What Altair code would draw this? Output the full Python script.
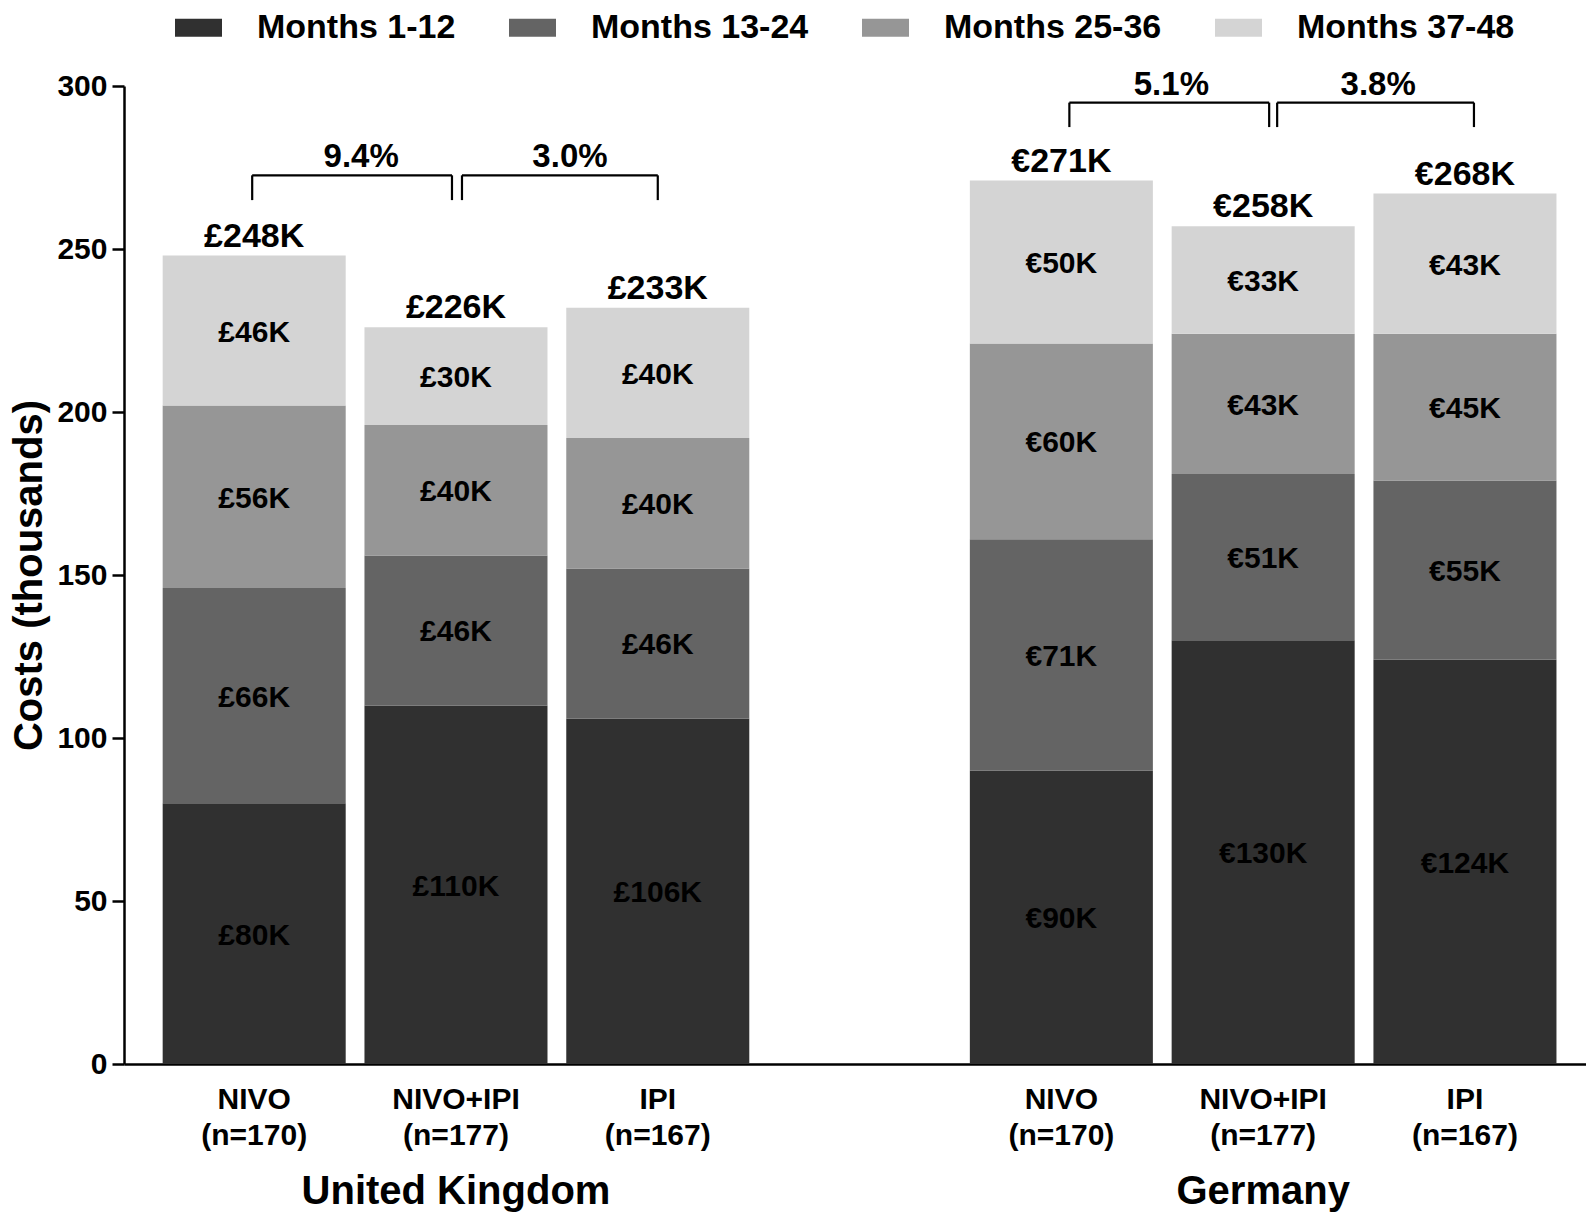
import altair as alt
import pandas as pd

# ---------------- data ----------------
keys = ["UK NIVO", "UK NIVO+IPI", "UK IPI", "DE NIVO", "DE NIVO+IPI", "DE IPI"]
x_domain = ["UK NIVO", "UK NIVO+IPI", "UK IPI", "gap", "DE NIVO", "DE NIVO+IPI", "DE IPI"]
arm_names = ["NIVO", "NIVO+IPI", "IPI", "NIVO", "NIVO+IPI", "IPI"]
n_labels = ["(n=170)", "(n=177)", "(n=167)", "(n=170)", "(n=177)", "(n=167)"]
currencies = ["£", "£", "£", "€", "€", "€"]
periods = ["Months 1-12", "Months 13-24", "Months 25-36", "Months 37-48"]
months_1_12 = [80, 110, 106, 90, 130, 124]
months_13_24 = [66, 46, 46, 71, 51, 55]
months_25_36 = [56, 40, 40, 60, 43, 45]
months_37_48 = [46, 30, 40, 50, 33, 43]
total_labels = ["£248K", "£226K", "£233K", "€271K", "€258K", "€268K"]
countries = ["United Kingdom", "Germany"]
country_centre = ["UK NIVO+IPI", "DE NIVO+IPI"]
pct_from = ["UK NIVO", "UK NIVO+IPI", "DE NIVO", "DE NIVO+IPI"]
pct_to = ["UK NIVO+IPI", "UK IPI", "DE NIVO+IPI", "DE IPI"]
pct_labels = ["9.4%", "3.0%", "5.1%", "3.8%"]
colors = ["#303030", "#646464", "#969696", "#d4d4d4"]

series = [months_1_12, months_13_24, months_25_36, months_37_48]
rows = []
for i, k in enumerate(keys):
    for j, p in enumerate(periods):
        v = series[j][i]
        rows.append({"key": k, "period": p, "order": j, "value": v,
                     "seg_label": f"{currencies[i]}{v}K",
                     "total_label": total_labels[i]})
df = pd.DataFrame(rows)
lab_df = pd.DataFrame({"key": keys, "arm": arm_names, "n": n_labels})
cty_df = pd.DataFrame({"key": country_centre, "country": countries})

# ---------------- layout ----------------
W, H = 1462, 978
FONT = "Liberation Sans"

xscale = alt.Scale(domain=x_domain, paddingInner=0.093, paddingOuter=0.169, align=0.567)
xaxis = alt.Axis(labels=False, ticks=False, title=None, grid=False,
                 domainColor="black", domainWidth=2.5)
yscale = alt.Scale(domain=[0, 300], nice=False, zero=True)
yaxis = alt.Axis(values=[0, 50, 100, 150, 200, 250, 300], grid=False,
                 domainColor="black", domainWidth=2.5, tickColor="black",
                 tickWidth=2.5, tickSize=12, labelFontSize=30, labelFont=FONT,
                 labelFontWeight="bold", labelColor="black", labelPadding=5,
                 labelFlush=False, labelOverlap=False,
                 title="Costs (thousands)", titleFontSize=40, titleFont=FONT,
                 titleFontWeight="bold", titleColor="black", titlePadding=7)


def X(field):
    return alt.X(field, type="nominal", scale=xscale, axis=xaxis)


def Y(field):
    return alt.Y(field, type="quantitative", scale=yscale, axis=yaxis)


base = (alt.Chart(df)
        .transform_stack(stack="value", groupby=["key"], as_=["y0", "y1"],
                         sort=[alt.SortField("order", order="ascending")])
        .transform_calculate(mid="(datum.y0 + datum.y1) / 2"))

legend = alt.Legend(orient="none", legendX=51, legendY=-82, direction="horizontal",
                    title=None, symbolType="M-1,-0.383L1,-0.383L1,0.383L-1,0.383Z",
                    symbolSize=2209, symbolStrokeWidth=0, symbolOpacity=1,
                    labelFontSize=34, labelFont=FONT, labelFontWeight="bold",
                    labelColor="black", labelOffset=35, columnPadding=53,
                    labelLimit=0, padding=0)

bars = base.mark_bar(opacity=1).encode(
    x=X("key"), y=Y("y0"), y2="y1:Q",
    color=alt.Color("period:N", scale=alt.Scale(domain=periods, range=colors),
                    legend=legend),
)

seg_text = base.mark_text(font=FONT, fontWeight="bold", fontSize=30, color="black",
                          baseline="middle", dy=2).encode(
    x=X("key"), y=Y("mid"), text="seg_label:N")

total_text = base.transform_filter(alt.datum.period == "Months 37-48").mark_text(
    font=FONT, fontWeight="bold", fontSize=34, color="black",
    baseline="alphabetic", dy=-9).encode(
    x=X("key"), y=Y("y1"), text="total_label:N")

xl1 = alt.Chart(lab_df).mark_text(font=FONT, fontWeight="bold", fontSize=30,
                                  color="black", baseline="middle").encode(
    x=X("key"), y=alt.value(H + 36), text="arm:N")
xl2 = alt.Chart(lab_df).mark_text(font=FONT, fontWeight="bold", fontSize=30,
                                  color="black", baseline="middle").encode(
    x=X("key"), y=alt.value(H + 72), text="n:N")
ctext = alt.Chart(cty_df).mark_text(font=FONT, fontWeight="bold", fontSize=40,
                                    color="black", baseline="middle").encode(
    x=X("key"), y=alt.value(H + 128), text="country:N")


def bracket(i, top, bottom, lab_y, off_l, off_r, lab_off):
    d = pd.DataFrame({"frm": [pct_from[i]], "to": [pct_to[i]], "label": [pct_labels[i]]})
    c = alt.Chart(d).transform_calculate(top=str(top), bottom=str(bottom),
                                         laby=str(lab_y))
    h = c.mark_rule(color="black", strokeWidth=2.2, xOffset=off_l,
                    x2Offset=off_r).encode(x=X("frm"), x2="to:N", y=Y("top"))
    la = c.mark_rule(color="black", strokeWidth=2.2, xOffset=off_l).encode(
        x=X("frm"), y=Y("top"), y2="bottom:Q")
    ra = c.mark_rule(color="black", strokeWidth=2.2, xOffset=off_r).encode(
        x=X("to"), y=Y("top"), y2="bottom:Q")
    t = c.mark_text(font=FONT, fontWeight="bold", fontSize=33, color="black",
                    baseline="middle", xOffset=lab_off).encode(
        x=X("frm"), y=Y("laby"), text="label:N")
    return [h, la, ra, t]


br = []
br += bracket(0, 272.6, 265.0, 278.3, -2, -4, 107)
br += bracket(1, 272.6, 265.0, 278.3, 6, 0, 114)
br += bracket(2, 294.9, 287.4, 300.2, 8, 6, 110)
br += bracket(3, 294.9, 287.4, 300.2, 14, 9, 115)

chart = (alt.layer(bars, seg_text, total_text, xl1, xl2, ctext, *br)
         .properties(width=W, height=H,
                     autosize=alt.AutoSizeParams(type="none"),
                     padding={"left": 116, "top": 78, "right": 0, "bottom": 148})
         .configure(background="white")
         .configure_view(stroke=None, strokeWidth=0)
         .configure_axis(grid=False))

chart.save("out.html", embed_options={"renderer": "svg", "actions": False})
